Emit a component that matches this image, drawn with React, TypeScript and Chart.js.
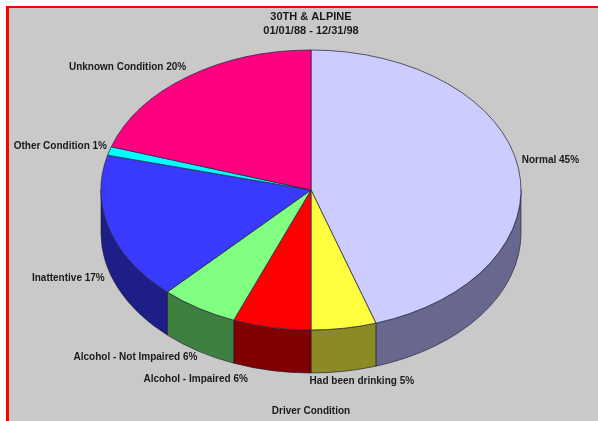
import React, { useEffect, useRef } from 'react';
import { Chart, registerables } from 'chart.js';

Chart.register(...registerables);

const categories = [
  'Normal',
  'Had been drinking',
  'Alcohol - Impaired',
  'Alcohol - Not Impaired',
  'Inattentive',
  'Other Condition',
  'Unknown Condition',
];
const values = [45, 5, 6, 6, 17, 1, 20];
const titleLines = ['30TH & ALPINE', '01/01/88 - 12/31/98'];
const axisTitle = 'Driver Condition';

const topColors = ['#ccccff', '#ffff40', '#ff0000', '#80ff80', '#3a3aff', '#00ffff', '#ff0080'];
const sideColors = ['#68688e', '#8c8a24', '#800000', '#3f8040', '#1e1e88', '#008080', '#800040'];

const TILT = 140 / 210;
const DEPTH = 43;
const FONT_FAMILY = 'Arial, "Liberation Sans", sans-serif';
const TEXT_COLOR = '#1a1a1a';
// label centre offsets from the slice's rim mid-point
const labelOffsets = [
  [32, -8],
  [18, 53],
  [-76, 52],
  [-63, 49],
  [-41, 49],
  [-49, -5],
  [-60, -9],
];

const pie3d = {
  id: 'pie3d',
  beforeDatasetsDraw(chart: any) {
    const meta = chart.getDatasetMeta(0);
    const ctx = chart.ctx as CanvasRenderingContext2D;
    ctx.save();
    meta.data.forEach((arc: any, i: number) => {
      const { x, y, startAngle, endAngle, outerRadius } = arc.getProps(
        ['x', 'y', 'startAngle', 'endAngle', 'outerRadius'],
        true
      );
      const ry = outerRadius * TILT;
      const a0 = Math.max(startAngle, 0);
      const a1 = Math.min(endAngle, Math.PI);
      if (a1 <= a0) return;
      ctx.beginPath();
      ctx.ellipse(x, y, outerRadius, ry, 0, a0, a1, false);
      ctx.ellipse(x, y + DEPTH, outerRadius, ry, 0, a1, a0, true);
      ctx.closePath();
      ctx.fillStyle = sideColors[i];
      ctx.fill();
      ctx.lineWidth = 0.8;
      ctx.strokeStyle = 'rgba(30,30,50,0.8)';
      ctx.stroke();
    });
    const a = meta.data[0];
    ctx.translate(a.x, a.y);
    ctx.scale(1, TILT);
    ctx.translate(-a.x, -a.y);
  },
  afterDatasetsDraw(chart: any) {
    const ctx = chart.ctx as CanvasRenderingContext2D;
    ctx.restore();
    const meta = chart.getDatasetMeta(0);
    const total = values.reduce((s, v) => s + v, 0);
    ctx.save();
    ctx.font = `bold 10px ${FONT_FAMILY}`;
    ctx.fillStyle = TEXT_COLOR;
    ctx.textAlign = 'center';
    ctx.textBaseline = 'middle';
    meta.data.forEach((arc: any, i: number) => {
      const { x, y, startAngle, endAngle, outerRadius } = arc.getProps(
        ['x', 'y', 'startAngle', 'endAngle', 'outerRadius'],
        true
      );
      const mid = (startAngle + endAngle) / 2;
      const px = x + outerRadius * Math.cos(mid);
      const py = y + outerRadius * TILT * Math.sin(mid);
      const pct = Math.round((values[i] / total) * 100);
      const off = labelOffsets[i];
      ctx.fillText(`${categories[i]} ${pct}%`, px + off[0], py + off[1]);
    });
    ctx.restore();
  },
};

export default function App() {
  const ref = useRef<HTMLCanvasElement | null>(null);
  useEffect(() => {
    if (!ref.current) return;
    const chart = new Chart(ref.current, {
      type: 'pie',
      data: {
        labels: categories,
        datasets: [
          {
            data: values,
            backgroundColor: topColors,
            borderColor: 'rgba(40,40,70,0.9)',
            borderWidth: 1,
            radius: 210,
            clip: false,
          } as any,
        ],
      },
      options: {
        responsive: false,
        animation: false,
        layout: { padding: { left: 24, right: 0, top: 0, bottom: 0 } },
        plugins: {
          legend: { display: false },
          tooltip: { enabled: false },
          title: {
            display: true,
            text: titleLines,
            color: TEXT_COLOR,
            font: { size: 11, weight: 'bold', family: FONT_FAMILY, lineHeight: 1.3 },
            padding: { top: 10, bottom: 0 },
          },
          subtitle: {
            display: true,
            position: 'bottom',
            text: axisTitle,
            color: TEXT_COLOR,
            font: { size: 10, weight: 'bold', family: FONT_FAMILY, lineHeight: 1.3 },
            padding: { top: 63.6, bottom: 3 },
          },
        },
      } as any,
      plugins: [pie3d],
    });
    return () => chart.destroy();
  }, []);

  return (
    <div
      style={{
        position: 'fixed',
        left: 0,
        top: 0,
        width: 598,
        height: 421,
        background: '#ffffff',
        overflow: 'hidden',
      }}
    >
      <div
        style={{
          position: 'absolute',
          left: 6,
          top: 6,
          right: 0,
          bottom: 0,
          background: '#c9c9c9',
          borderLeft: '3px solid #ff0000',
          borderTop: '2px solid #ff0000',
        }}
      />
      <canvas
        ref={ref}
        width={598}
        height={421}
        style={{ position: 'absolute', left: 0, top: 0, width: 598, height: 421 }}
      />
    </div>
  );
}
